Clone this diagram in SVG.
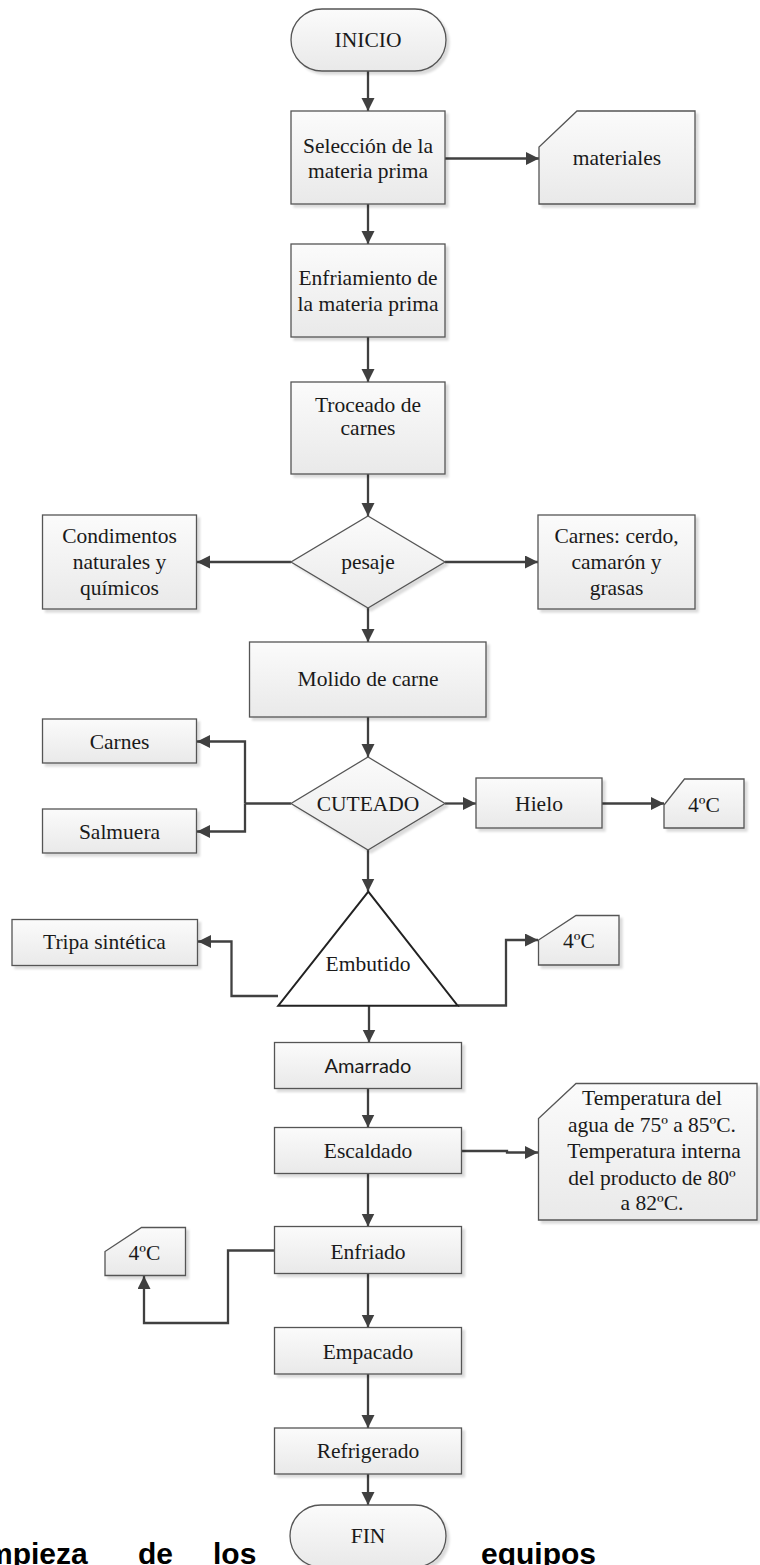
<svg xmlns="http://www.w3.org/2000/svg" width="760" height="1565" viewBox="0 0 760 1565">
<defs>
<linearGradient id="g" x1="0" y1="0" x2="0" y2="1">
<stop offset="0" stop-color="#fbfbfb"/>
<stop offset="1" stop-color="#e9e9e9"/>
</linearGradient>
<filter id="sh" x="-10%" y="-10%" width="130%" height="130%">
<feGaussianBlur in="SourceAlpha" stdDeviation="1"/>
<feOffset dx="3" dy="3" result="o"/>
<feFlood flood-color="#000" flood-opacity="0.14"/>
<feComposite in2="o" operator="in"/>
<feMerge><feMergeNode/><feMergeNode in="SourceGraphic"/></feMerge>
</filter>
<marker id="ah" markerUnits="userSpaceOnUse" markerWidth="14" markerHeight="14" refX="13" refY="6.5" orient="auto">
<path d="M0,0 L13,6.5 L0,13 z" fill="#404040"/>
</marker>
</defs>
<style>
.b{fill:url(#g);stroke:#555;stroke-width:1.3;filter:url(#sh)}
.tri{fill:#fff;stroke:#222;stroke-width:2}
.t{font-family:"Liberation Serif","Times New Roman",serif;font-size:21.5px;fill:#1a1a1a;text-anchor:middle}
.s{font-family:Lato,"Liberation Sans",sans-serif;font-size:20px;fill:#1a1a1a;text-anchor:middle}
.c{fill:none;stroke:#404040;stroke-width:2.3;marker-end:url(#ah)}
.n{fill:none;stroke:#404040;stroke-width:2.3}
.bt{font-family:"Liberation Sans",Arial,sans-serif;font-size:30px;font-weight:bold;fill:#000}
</style>

<g id="footer-text">
<text class="bt" x="-14" y="1564">mpieza</text>
<text class="bt" x="138" y="1564">de</text>
<text class="bt" x="213" y="1564">los</text>
<text class="bt" x="481" y="1564">equipos</text>
</g>

<g id="connectors">
<path class="c" d="M368,71 V111"/>
<path class="c" d="M368,204 V244"/>
<path class="c" d="M445,158.5 H539"/>
<path class="c" d="M368,337 V382"/>
<path class="c" d="M368,474 V516"/>
<path class="c" d="M291,562 H197"/>
<path class="c" d="M445,562 H538"/>
<path class="c" d="M368,608 V642"/>
<path class="c" d="M368,717 V757"/>
<path class="n" d="M291,803.5 H245"/>
<path class="c" d="M245,803.5 V741.5 H197"/>
<path class="c" d="M245,803.5 V831.5 H197"/>
<path class="c" d="M445,803.5 H476"/>
<path class="c" d="M602,803.5 H664"/>
<path class="c" d="M368,850 V891.5"/>
<path class="c" d="M278,996 H231.5 V941.5 H198"/>
<path class="c" d="M458,1005.5 H506 V940 H538"/>
<path class="c" d="M369,1005.5 V1042.5"/>
<path class="c" d="M368,1088 V1127.5"/>
<path class="c" d="M461.5,1151 H507 V1152.5 H538"/>
<path class="c" d="M368,1173 V1226.5"/>
<path class="c" d="M274,1250.5 H228 V1323 H144 V1276"/>
<path class="c" d="M368,1273 V1327.5"/>
<path class="c" d="M368,1374 V1428"/>
<path class="c" d="M368,1474 V1505"/>
</g>

<g id="inicio">
<rect class="b" x="291" y="9" width="155" height="62" rx="31" ry="31"/>
<text class="t" x="368" y="47">INICIO</text>
</g>

<g id="seleccion">
<rect class="b" x="291" y="111" width="154" height="93"/>
<text class="t" x="368" y="153">Selección de la</text>
<text class="t" x="368" y="178">materia prima</text>
</g>

<g id="materiales">
<path class="b" d="M577,111 H695 V204 H539 V147 Z"/>
<text class="t" x="617" y="165">materiales</text>
</g>

<g id="enfriamiento">
<rect class="b" x="291" y="244" width="154" height="93"/>
<text class="t" x="368" y="285">Enfriamiento de</text>
<text class="t" x="368" y="311">la materia prima</text>
</g>

<g id="troceado">
<rect class="b" x="291" y="382" width="154" height="92"/>
<text class="t" x="368" y="412">Troceado de</text>
<text class="t" x="368" y="435">carnes</text>
</g>

<g id="pesaje">
<polygon class="b" points="368,516 445,562 368,608 291,562"/>
<text class="t" x="368" y="569">pesaje</text>
</g>

<g id="condimentos">
<rect class="b" x="42.5" y="515" width="154" height="94"/>
<text class="t" x="119.5" y="543">Condimentos</text>
<text class="t" x="119.5" y="569">naturales y</text>
<text class="t" x="119.5" y="595">químicos</text>
</g>

<g id="carnes-cerdo">
<rect class="b" x="538" y="515" width="157" height="94"/>
<text class="t" x="616.5" y="543">Carnes: cerdo,</text>
<text class="t" x="616.5" y="569">camarón y</text>
<text class="t" x="616.5" y="595">grasas</text>
</g>

<g id="molido">
<rect class="b" x="249.5" y="642" width="236.5" height="75"/>
<text class="t" x="368" y="686">Molido de carne</text>
</g>

<g id="carnes">
<rect class="b" x="42.5" y="719" width="154" height="44"/>
<text class="t" x="119.5" y="748.5">Carnes</text>
</g>

<g id="salmuera">
<rect class="b" x="42.5" y="809" width="154" height="44"/>
<text class="t" x="119.5" y="838.5">Salmuera</text>
</g>

<g id="cuteado">
<polygon class="b" points="368,757 445,803.5 368,850 291,803.5"/>
<text class="t" x="368" y="811">CUTEADO</text>
</g>

<g id="hielo">
<rect class="b" x="476" y="778" width="126" height="50"/>
<text class="t" x="539" y="811">Hielo</text>
</g>

<g id="temp-hielo">
<path class="b" d="M684.5,779 H744 V828 H664 V805 Z"/>
<text class="t" x="704" y="812">4ºC</text>
</g>

<g id="embutido">
<polygon class="tri" points="368.3,891.7 457.7,1005.7 278.3,1005.7"/>
<text class="t" x="368" y="971">Embutido</text>
</g>

<g id="tripa">
<rect class="b" x="12" y="919.5" width="185.5" height="46"/>
<text class="t" x="104.5" y="948.5">Tripa sintética</text>
</g>

<g id="temp-embutido">
<path class="b" d="M576,915.5 H619 V965 H538.5 V940 Z"/>
<text class="t" x="579" y="947.5">4ºC</text>
</g>

<g id="amarrado">
<rect class="b" x="274.5" y="1042.5" width="187" height="46"/>
<text class="s" x="368" y="1072.5">Amarrado</text>
</g>

<g id="escaldado">
<rect class="b" x="274.5" y="1127.5" width="187" height="46"/>
<text class="t" x="368" y="1157.5">Escaldado</text>
</g>

<g id="temperatura">
<path class="b" d="M576,1083.5 H757 V1220 H538.5 V1118.5 Z"/>
<text class="t" x="652" y="1105">Temperatura del</text>
<text class="t" x="652" y="1131.5">agua de 75º a 85ºC.</text>
<text class="t" x="654" y="1158">Temperatura interna</text>
<text class="t" x="652" y="1184.5">del producto de 80º</text>
<text class="t" x="652" y="1210">a 82ºC.</text>
</g>

<g id="enfriado">
<rect class="b" x="274.5" y="1226.5" width="187" height="47"/>
<text class="t" x="368" y="1258.5">Enfriado</text>
</g>

<g id="temp-enfriado">
<path class="b" d="M141.5,1227.5 H185.5 V1275.5 H105 V1251.5 Z"/>
<text class="t" x="144.5" y="1259.5">4ºC</text>
</g>

<g id="empacado">
<rect class="b" x="274.5" y="1327.5" width="187" height="46.5"/>
<text class="t" x="368" y="1358.5">Empacado</text>
</g>

<g id="refrigerado">
<rect class="b" x="274.5" y="1428" width="187" height="46"/>
<text class="t" x="368" y="1458">Refrigerado</text>
</g>

<g id="fin">
<rect class="b" x="290" y="1505" width="156" height="62" rx="31" ry="31"/>
<text class="t" x="368" y="1543">FIN</text>
</g>
</svg>
